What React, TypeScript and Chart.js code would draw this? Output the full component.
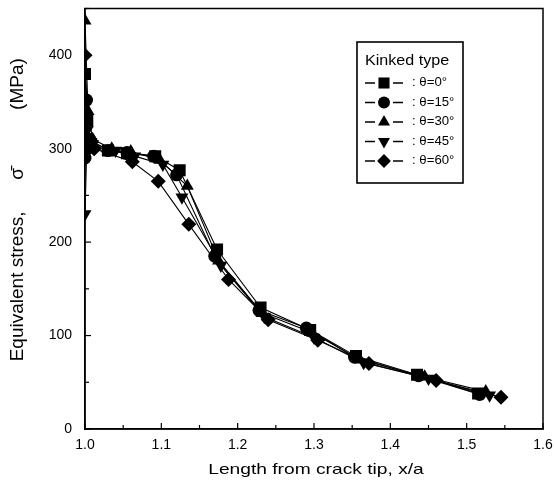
import React, { useEffect, useRef } from "react";
import { Chart, registerables } from "chart.js";

Chart.register(...registerables);

const xTickValues = [1.0, 1.1, 1.2, 1.3, 1.4, 1.5, 1.6];
const yTickValues = [0, 100, 200, 300, 400];

const xTitle = "Length from crack tip, x/a";
const yTitle = "Equivalent stress,      σ̄           (MPa)";
const legendTitle = "Kinked type";
const seriesLabels = [": θ=0°", ": θ=15°", ": θ=30°", ": θ=45°", ": θ=60°"];

const x0 = [1.0, 1.003, 1.008, 1.03, 1.055, 1.092, 1.124, 1.173, 1.23, 1.295, 1.355, 1.435, 1.515];
const y0 = [380, 330, 305, 298, 295, 292, 277, 192, 130, 106, 78, 58, 38];

const x15 = [1.0, 1.002, 1.006, 1.03, 1.055, 1.09, 1.12, 1.17, 1.228, 1.29, 1.353, 1.437, 1.517];
const y15 = [290, 352, 310, 298, 296, 292, 272, 185, 127, 108, 77, 57, 37];

const x30 = [1.0, 1.004, 1.01, 1.035, 1.06, 1.098, 1.134, 1.175, 1.232, 1.298, 1.36, 1.445, 1.525];
const y30 = [437, 340, 310, 300, 297, 288, 260, 180, 124, 103, 74, 56, 40];

const x45 = [1.0, 1.003, 1.01, 1.04, 1.065, 1.102, 1.127, 1.178, 1.235, 1.3, 1.365, 1.45, 1.53];
const y45 = [230, 320, 305, 298, 292, 283, 248, 175, 120, 98, 71, 54, 36];

const x60 = [1.0, 1.005, 1.012, 1.062, 1.096, 1.136, 1.188, 1.24, 1.305, 1.372, 1.46, 1.545];
const y60 = [400, 300, 300, 286, 265, 219, 160, 117, 95, 70, 52, 34];

const FONT = "'Liberation Sans', Arial, Helvetica, sans-serif";

type Marker = { style: string; radius: number; rotation: number };
const markers: Marker[] = [
  { style: "rect", radius: 8.5, rotation: 0 },
  { style: "circle", radius: 6.5, rotation: 0 },
  { style: "triangle", radius: 7.5, rotation: 0 },
  { style: "triangle", radius: 7.5, rotation: 180 },
  { style: "rectRot", radius: 7.5, rotation: 0 },
];

function zip(xs: number[], ys: number[]) {
  return xs.map((x, i) => ({ x, y: ys[i] }));
}

function drawMarker(ctx: CanvasRenderingContext2D, m: Marker, x: number, y: number) {
  ctx.beginPath();
  const r = m.radius;
  if (m.style === "rect") {
    const s = Math.SQRT1_2 * r;
    ctx.rect(x - s, y - s, 2 * s, 2 * s);
  } else if (m.style === "circle") {
    ctx.arc(x, y, r, 0, Math.PI * 2);
  } else if (m.style === "triangle") {
    const rad = (m.rotation * Math.PI) / 180;
    for (let k = 0; k < 3; k++) {
      const a = rad + (k * 2 * Math.PI) / 3;
      const px = x + Math.sin(a) * r;
      const py = y - Math.cos(a) * r;
      if (k === 0) ctx.moveTo(px, py);
      else ctx.lineTo(px, py);
    }
    ctx.closePath();
  } else if (m.style === "rectRot") {
    ctx.moveTo(x, y - r);
    ctx.lineTo(x + r, y);
    ctx.lineTo(x, y + r);
    ctx.lineTo(x - r, y);
    ctx.closePath();
  }
  ctx.fill();
}

const frameAndTicks = {
  id: "frameAndTicks",
  afterDraw(chart: any) {
    const { ctx, chartArea, scales } = chart;
    ctx.save();
    ctx.strokeStyle = "#000";
    ctx.lineWidth = 1.5;
    ctx.strokeRect(chartArea.left, chartArea.top, chartArea.right - chartArea.left, chartArea.bottom - chartArea.top);
    ctx.lineWidth = 1.2;
    for (let i = 0; i <= 12; i++) {
      const v = 1.0 + i * 0.05;
      const px = scales.x.getPixelForValue(v);
      const len = i % 2 === 0 ? 6 : 4;
      ctx.beginPath();
      ctx.moveTo(px, chartArea.bottom);
      ctx.lineTo(px, chartArea.bottom - len);
      ctx.stroke();
    }
    for (let i = 0; i <= 9; i++) {
      const v = i * 50;
      const py = scales.y.getPixelForValue(v);
      const len = i % 2 === 0 ? 6 : 4;
      ctx.beginPath();
      ctx.moveTo(chartArea.left, py);
      ctx.lineTo(chartArea.left + len, py);
      ctx.stroke();
    }

    // axis titles
    ctx.fillStyle = "#000";
    ctx.textAlign = "center";
    ctx.textBaseline = "middle";
    ctx.save();
    ctx.translate((chartArea.left + chartArea.right) / 2 + 2, chartArea.bottom + 41);
    ctx.scale(1.28, 1);
    ctx.font = `15px ${FONT}`;
    ctx.fillText(xTitle, 0, 0);
    ctx.restore();

    ctx.save();
    ctx.translate(18, (chartArea.top + chartArea.bottom) / 2 - 9);
    ctx.rotate(-Math.PI / 2);
    ctx.font = `19px ${FONT}`;
    ctx.fillText(yTitle, 0, 0);
    ctx.restore();

    ctx.restore();
  },
};

const customLegend = {
  id: "customLegend",
  afterDraw(chart: any) {
    const { ctx } = chart;
    const left = 357;
    const top = 42;
    const w = 106;
    const h = 141;
    ctx.save();
    ctx.fillStyle = "#fff";
    ctx.fillRect(left, top, w, h);
    ctx.strokeStyle = "#000";
    ctx.lineWidth = 1.6;
    ctx.strokeRect(left, top, w, h);
    ctx.fillStyle = "#000";
    ctx.textBaseline = "middle";
    ctx.textAlign = "left";
    ctx.save();
    ctx.translate(left + 8, top + 19);
    ctx.scale(1.15, 1);
    ctx.font = `14px ${FONT}`;
    ctx.fillText(legendTitle, 0, 0);
    ctx.restore();
    for (let i = 0; i < seriesLabels.length; i++) {
      const cy = top + 41 + i * 19.5;
      ctx.lineWidth = 1.3;
      ctx.beginPath();
      ctx.moveTo(left + 8, cy);
      ctx.lineTo(left + 18, cy);
      ctx.moveTo(left + 36, cy);
      ctx.lineTo(left + 46, cy);
      ctx.stroke();
      const m = markers[i];
      drawMarker(ctx, { ...m, radius: m.radius * 0.92 }, left + 27, cy);
      ctx.save();
      ctx.translate(left + 55, cy);
      ctx.scale(1.1, 1);
      ctx.font = `12px ${FONT}`;
      ctx.fillText(seriesLabels[i], 0, 0);
      ctx.restore();
    }
    ctx.restore();
  },
};

export default function App() {
  const canvasRef = useRef<HTMLCanvasElement | null>(null);

  useEffect(() => {
    const canvas = canvasRef.current;
    if (!canvas) return;
    const seriesX = [x0, x15, x30, x45, x60];
    const seriesY = [y0, y15, y30, y45, y60];
    const datasets = seriesX.map((xs, i) => ({
      label: seriesLabels[i],
      data: zip(xs, seriesY[i]),
      borderColor: "#000",
      backgroundColor: "#000",
      borderWidth: 1.1,
      pointStyle: markers[i].style,
      pointRadius: markers[i].radius,
      pointRotation: markers[i].rotation,
      pointBorderWidth: 0,
      pointBackgroundColor: "#000",
      showLine: true,
      tension: 0,
    }));

    const chart = new Chart(canvas, {
      type: "scatter",
      data: { datasets } as any,
      options: {
        animation: false,
        responsive: false,
        maintainAspectRatio: false,
        layout: { padding: { top: 8, right: 12, left: 0, bottom: 0 } },
        plugins: {
          legend: { display: false },
          tooltip: { enabled: false },
        },
        scales: {
          x: {
            type: "linear",
            min: 1.0,
            max: 1.6,
            afterBuildTicks: (s: any) => {
              s.ticks = xTickValues.map((v) => ({ value: v }));
            },
            afterFit: (s: any) => {
              s.height = 56;
              s.paddingLeft = 0;
              s.paddingRight = 0;
            },
            ticks: {
              color: "#000",
              font: { family: FONT, size: 14 },
              padding: 8,
              callback: (v: any) => Number(v).toFixed(1),
              maxRotation: 0,
            },
            grid: { display: false, drawTicks: false },
            border: { display: true, color: "#000", width: 1.5 },
            title: { display: false },
          },
          y: {
            type: "linear",
            min: 0,
            max: 450,
            afterBuildTicks: (s: any) => {
              s.ticks = yTickValues.map((v) => ({ value: v }));
            },
            afterFit: (s: any) => {
              s.width = 85;
              s.paddingTop = 0;
              s.paddingBottom = 0;
            },
            ticks: {
              color: "#000",
              font: { family: FONT, size: 14 },
              padding: 13,
            },
            grid: { display: false, drawTicks: false },
            border: { display: true, color: "#000", width: 1.5 },
            title: { display: false },
          },
        },
      } as any,
      plugins: [frameAndTicks, customLegend],
    });
    return () => chart.destroy();
  }, []);

  return (
    <div style={{ position: "fixed", left: 0, top: 0, width: 555, height: 485, background: "#fff" }}>
      <canvas ref={canvasRef} width={555} height={485} style={{ display: "block", width: 555, height: 485 }} />
    </div>
  );
}
